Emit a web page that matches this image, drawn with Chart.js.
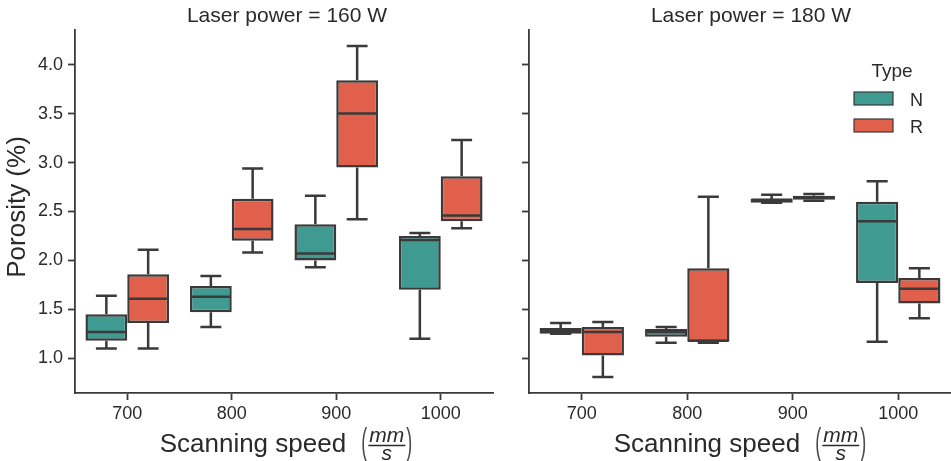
<!DOCTYPE html>
<html>
<head>
<meta charset="utf-8">
<script src="https://cdn.jsdelivr.net/npm/chart.js@4.4.1/dist/chart.umd.min.js"></script>
<style>
  body { margin: 0; background: #fff; }
  #wrap { position: relative; width: 951px; height: 461px; }
  canvas { position: absolute; top: 0; }
</style>
</head>
<body>
<div id="wrap">
  <canvas id="p160" width="500" height="461" style="left:0"></canvas>
  <canvas id="p180" width="451" height="461" style="left:500px"></canvas>
</div>
<script>
const speeds = ["700", "800", "900", "1000"];
const yTicks = [1.0, 1.5, 2.0, 2.5, 3.0, 3.5, 4.0];

// [lower whisker, Q1, median, Q3, upper whisker] for each speed
const n160 = [
  [1.10, 1.18, 1.27, 1.45, 1.64],
  [1.32, 1.47, 1.63, 1.74, 1.84],
  [1.93, 2.00, 2.07, 2.37, 2.66],
  [1.20, 1.70, 2.21, 2.25, 2.28]
];
const r160 = [
  [1.10, 1.36, 1.61, 1.86, 2.11],
  [2.08, 2.20, 2.32, 2.63, 2.94],
  [2.42, 2.95, 3.50, 3.84, 4.19],
  [2.33, 2.40, 2.46, 2.86, 3.23]
];
const n180 = [
  [1.25, 1.25, 1.28, 1.31, 1.36],
  [1.16, 1.22, 1.27, 1.30, 1.32],
  [2.59, 2.59, 2.62, 2.63, 2.67],
  [1.17, 1.77, 2.40, 2.60, 2.81]
];
const r180 = [
  [0.81, 1.03, 1.27, 1.32, 1.37],
  [1.16, 1.17, 1.18, 1.92, 2.65],
  [2.61, 2.62, 2.64, 2.66, 2.68],
  [1.41, 1.56, 1.71, 1.82, 1.92]
];

const teal = "#3f9b92";
const red = "#e0604b";
const ink = "#3a3a3a";
const textInk = "#2a2a2a";
const family = "'Liberation Sans', Arial, sans-serif";

// whiskers, caps and medians on top of the floating bars (the boxes)
const boxPlot = {
  id: "boxPlot",
  afterDatasetsDraw(chart) {
    const ctx = chart.ctx;
    const y = chart.scales.y;
    ctx.save();
    ctx.strokeStyle = ink;
    ctx.lineWidth = 2.5;
    chart.data.datasets.forEach((ds, i) => {
      chart.getDatasetMeta(i).data.forEach((bar, j) => {
        const [lo, q1, med, q3, hi] = ds.stats[j];
        const { x, width } = bar.getProps(["x", "width"]);
        const cap = width / 4;
        const half = width / 2 - 1;
        ctx.beginPath();
        ctx.moveTo(x, y.getPixelForValue(q3));
        ctx.lineTo(x, y.getPixelForValue(hi));
        ctx.moveTo(x, y.getPixelForValue(q1));
        ctx.lineTo(x, y.getPixelForValue(lo));
        ctx.moveTo(x - cap, y.getPixelForValue(hi));
        ctx.lineTo(x + cap, y.getPixelForValue(hi));
        ctx.moveTo(x - cap, y.getPixelForValue(lo));
        ctx.lineTo(x + cap, y.getPixelForValue(lo));
        ctx.moveTo(x - half, y.getPixelForValue(med));
        ctx.lineTo(x + half, y.getPixelForValue(med));
        ctx.stroke();
      });
    });
    ctx.restore();
  }
};

// panel title, axis titles and the legend
const panelText = {
  id: "panelText",
  afterDraw(chart, args, opts) {
    const ctx = chart.ctx;
    const area = chart.chartArea;
    const cx = (area.left + area.right) / 2;
    ctx.save();
    ctx.fillStyle = textInk;

    // title
    ctx.font = "21px " + family;
    ctx.textAlign = "center";
    ctx.textBaseline = "alphabetic";
    ctx.fillText(opts.title, cx + opts.titleShift, 22);

    // x title: Scanning speed (mm / s)
    const mainFont = "26px " + family;
    const fracFont = "italic 21px " + family;
    const parenFont = "36px " + family;
    const gap = 8;
    ctx.textAlign = "left";
    ctx.font = mainFont;
    const wMain = ctx.measureText("Scanning speed ").width;
    ctx.font = fracFont;
    const wFrac = ctx.measureText("mm").width + 2;
    const parenScale = 0.5;
    ctx.font = parenFont;
    const wParen = ctx.measureText("(").width * parenScale;
    const total = wMain + gap + wParen + wFrac + wParen + 2;
    let x0 = cx + opts.xTitleShift - total / 2;
    ctx.font = mainFont;
    ctx.fillText("Scanning speed ", x0, 452);
    x0 += wMain + gap;
    ctx.font = parenFont;
    ctx.fillStyle = "#4a4a4a";
    ctx.save();
    ctx.translate(x0, 454);
    ctx.scale(parenScale, 1);
    ctx.fillText("(", 0, 0);
    ctx.restore();
    ctx.fillStyle = textInk;
    x0 += wParen + 1;
    const fx = x0 + wFrac / 2;
    ctx.font = fracFont;
    ctx.textAlign = "center";
    ctx.fillText("mm", fx, 442);
    ctx.fillText("s", fx, 460);
    ctx.strokeStyle = textInk;
    ctx.lineWidth = 1.4;
    ctx.beginPath();
    ctx.moveTo(x0, 445.5);
    ctx.lineTo(x0 + wFrac, 445.5);
    ctx.stroke();
    x0 += wFrac + 1;
    ctx.textAlign = "left";
    ctx.font = parenFont;
    ctx.fillStyle = "#4a4a4a";
    ctx.save();
    ctx.translate(x0, 454);
    ctx.scale(parenScale, 1);
    ctx.fillText(")", 0, 0);
    ctx.restore();
    ctx.fillStyle = textInk;

    // y title
    if (opts.yTitle) {
      ctx.save();
      ctx.translate(25, 207);
      ctx.rotate(-Math.PI / 2);
      ctx.font = "26px " + family;
      ctx.textAlign = "center";
      ctx.fillText("Porosity (%)", 0, 0);
      ctx.restore();
    }

    // legend
    if (opts.legend) {
      const lx = area.left + opts.legend.x;
      ctx.font = "19px " + family;
      ctx.textAlign = "center";
      ctx.fillText("Type", lx + 38, 77);
      ctx.font = "18px " + family;
      ctx.textAlign = "left";
      chart.data.datasets.forEach((ds, i) => {
        const ty = 92 + i * 27;
        ctx.fillStyle = ds.backgroundColor;
        ctx.fillRect(lx, ty, 39, 13);
        ctx.strokeStyle = ink;
        ctx.lineWidth = 1.2;
        ctx.strokeRect(lx, ty, 39, 13);
        ctx.fillStyle = textInk;
        ctx.fillText(ds.label, lx + 56, ty + 14);
      });
    }
    ctx.restore();
  }
};

const makePanel = (id, nBoxes, rBoxes, text, yWidth, padRight, showYLabels) => {
  const ctx = document.getElementById(id).getContext("2d");
  return new Chart(ctx, {
    type: "bar",
    data: {
      labels: speeds,
      datasets: [
        { label: "N", data: nBoxes.map(b => [b[1], b[3]]), stats: nBoxes, backgroundColor: teal },
        { label: "R", data: rBoxes.map(b => [b[1], b[3]]), stats: rBoxes, backgroundColor: red }
      ]
    },
    options: {
      responsive: false,
      animation: false,
      events: [],
      layout: { padding: { top: 30, right: padRight, left: 0, bottom: 0 } },
      datasets: {
        bar: {
          categoryPercentage: 0.8,
          barPercentage: 1,
          borderColor: ink,
          borderWidth: 2.5,
          borderSkipped: false
        }
      },
      plugins: {
        legend: { display: false },
        tooltip: { enabled: false },
        panelText: text
      },
      scales: {
        x: {
          grid: {
            display: true,
            drawOnChartArea: false,
            offset: false,
            tickLength: 7,
            tickWidth: 1.8,
            tickColor: ink,
            color: ink
          },
          border: { display: true, color: ink, width: 1.8 },
          ticks: { color: textInk, font: { family: family, size: 18 }, padding: 3 },
          afterFit: s => { s.height = 68; }
        },
        y: {
          min: 0.646,
          max: 4.354,
          afterBuildTicks: s => { s.ticks = yTicks.map(v => ({ value: v })); },
          grid: {
            display: true,
            drawOnChartArea: false,
            tickLength: 7,
            tickWidth: 1.8,
            tickColor: ink,
            color: ink
          },
          border: { display: true, color: ink, width: 1.8 },
          ticks: {
            color: showYLabels ? textInk : "rgba(0,0,0,0)",
            font: { family: family, size: 18 },
            padding: 5,
            callback: v => v.toFixed(1)
          },
          afterFit: s => { s.width = yWidth; }
        }
      }
    },
    plugins: [boxPlot, panelText]
  });
};

makePanel("p160", n160, r160,
  { title: "Laser power = 160 W", titleShift: 3, xTitleShift: 2, yTitle: true, legend: null },
  75, 7, true);
makePanel("p180", n180, r180,
  { title: "Laser power = 180 W", titleShift: 11, xTitleShift: 0, yTitle: false, legend: { x: 325 } },
  29, 0, false);
</script>
</body>
</html>
